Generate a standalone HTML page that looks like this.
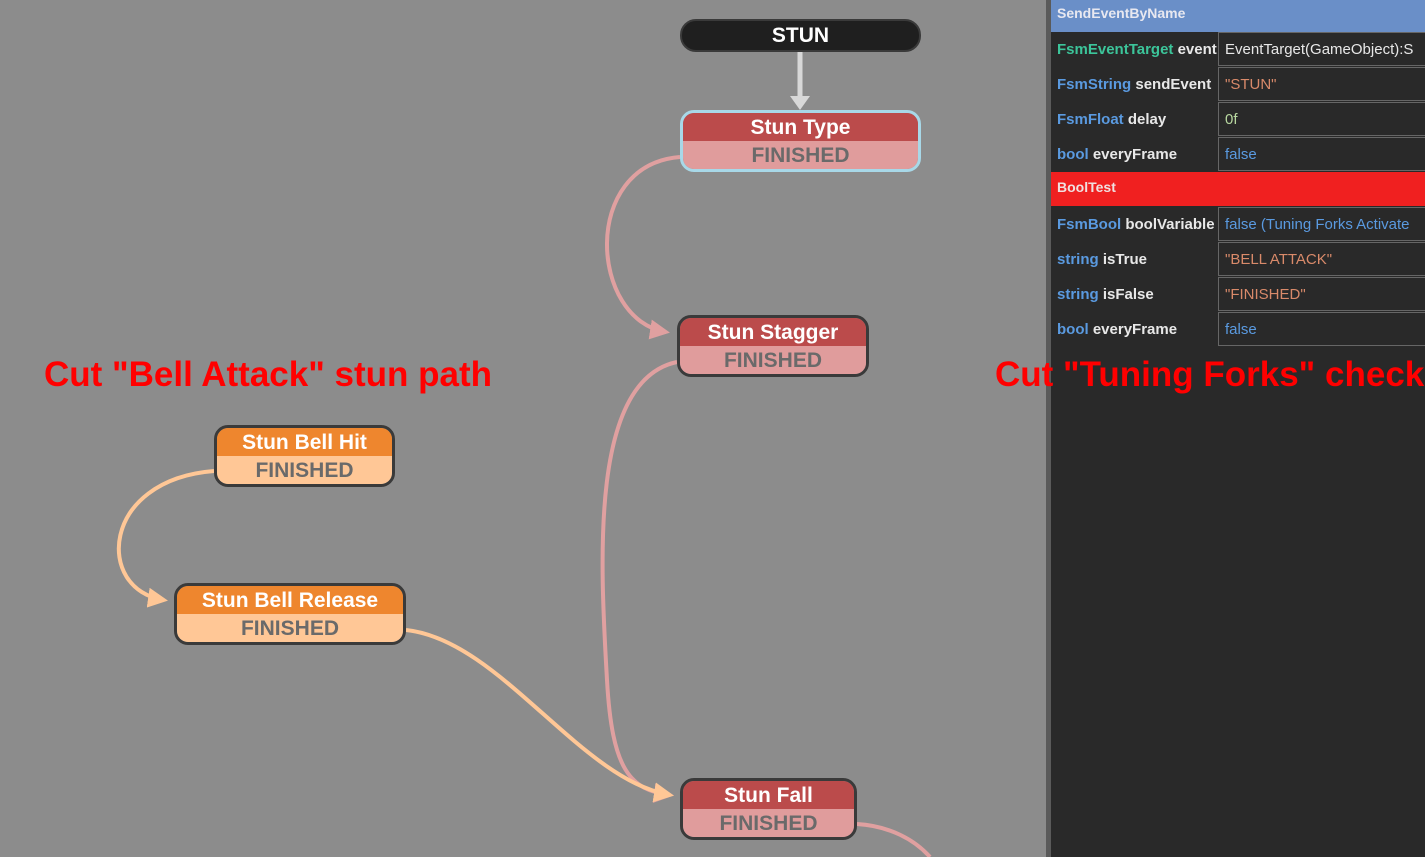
<!DOCTYPE html>
<html><head><meta charset="utf-8"><style>
body{margin:0;width:1425px;height:857px;background:#8c8c8c;overflow:hidden;position:relative;font-family:"Liberation Sans",sans-serif}
.node{position:absolute;border:3px solid #3a3a3a;border-radius:14px;overflow:hidden;box-sizing:border-box;text-align:center;font-weight:bold}
.node .t{height:28px;line-height:29px;color:#fff;font-size:21px}
.node .b{line-height:29px;color:#6a6a6a;font-size:21px;height:100%}
.red .t{background:#bb4b4b}.red .b{background:#e09c9c}
.org .t{background:#ee862e}.org .b{background:#ffc796}
.lbl{position:absolute;color:#ff0000;font-weight:bold;font-size:35px;white-space:nowrap}
#panel{position:absolute;left:1046px;top:0;width:379px;height:857px;background:#292929;border-left:5px solid #5a5a5a;box-sizing:border-box}
.row{position:absolute;left:0;width:374px;height:35px;font-size:15px;line-height:35px}
.k{position:absolute;left:6px;font-weight:bold;color:#e8e8e8;white-space:nowrap;width:160px;overflow:hidden}
.k span{color:#5a9ae0}
.v{position:absolute;left:167px;top:0;width:220px;height:34px;border:1px solid #666;border-right:none;box-sizing:border-box;padding-left:6px;line-height:34px;white-space:nowrap;overflow:hidden;font-size:15px}
</style></head><body>
<svg width="1425" height="857" style="position:absolute;left:0;top:0">
<defs>
<marker id="ap" markerWidth="5" markerHeight="5" refX="4" refY="2.5" orient="auto" markerUnits="strokeWidth"><path d="M0,0L5,2.5L0,5z" fill="#e0a0a0"/></marker>
<marker id="ao" markerWidth="5" markerHeight="5" refX="4" refY="2.5" orient="auto" markerUnits="strokeWidth"><path d="M0,0L5,2.5L0,5z" fill="#ffc796"/></marker>
</defs>
<g fill="none" stroke-width="4">
<path d="M680,157 C580,165 590,320 666,332" stroke="#e0a0a0" marker-end="url(#ap)"/>
<path d="M677,362 C590,380 600,560 607,680 C612,770 630,790 670,795" stroke="#e0a0a0" marker-end="url(#ap)"/>
<path d="M857,824 C890,826 915,840 930,857" stroke="#e0a0a0"/>
<path d="M214,471 C100,480 95,590 164,600" stroke="#ffc796" marker-end="url(#ao)"/>
<path d="M406,630 C500,640 580,780 670,795" stroke="#ffc796" marker-end="url(#ao)"/>
</g>
<line x1="800" y1="52" x2="800" y2="96" stroke="#d8d8d8" stroke-width="5"/>
<path d="M790,96L810,96L800,110z" fill="#d8d8d8"/>
</svg>
<div style="position:absolute;left:680px;top:19px;width:241px;height:33px;background:#1f1f1f;border:2px solid #3a3a3a;box-sizing:border-box;border-radius:16px;color:#fff;font-weight:bold;font-size:21px;text-align:center;line-height:29px">STUN</div>
<div class="node red" style="left:680px;top:110px;width:241px;height:62px;border-color:#a8d8e8"><div class="t">Stun Type</div><div class="b">FINISHED</div></div>
<div class="node red" style="left:677px;top:315px;width:192px;height:62px"><div class="t">Stun Stagger</div><div class="b">FINISHED</div></div>
<div class="node org" style="left:214px;top:425px;width:181px;height:62px"><div class="t">Stun Bell Hit</div><div class="b">FINISHED</div></div>
<div class="node org" style="left:174px;top:583px;width:232px;height:62px"><div class="t">Stun Bell Release</div><div class="b">FINISHED</div></div>
<div class="node red" style="left:680px;top:778px;width:177px;height:62px"><div class="t">Stun Fall</div><div class="b">FINISHED</div></div>
<div id="panel">
<div style="position:absolute;left:0;top:0;width:374px;height:32px;background:#6a8fc8;color:#e8e8f0;font-weight:bold;font-size:14px;line-height:26px;padding-left:6px;box-sizing:border-box">SendEventByName</div>
<div class="row" style="top:32px"><div class="k"><span style="color:#3cc59a">FsmEventTarget</span> event</div><div class="v" style="color:#e8e8e8">EventTarget(GameObject):S</div></div>
<div class="row" style="top:67px"><div class="k"><span>FsmString</span> sendEvent</div><div class="v" style="color:#d98a6a">"STUN"</div></div>
<div class="row" style="top:102px"><div class="k"><span>FsmFloat</span> delay</div><div class="v" style="color:#b8d8a0">0f</div></div>
<div class="row" style="top:137px"><div class="k"><span>bool</span> everyFrame</div><div class="v" style="color:#5a9ae0">false</div></div>
<div style="position:absolute;left:0;top:172px;width:374px;height:34px;background:#f02020;color:#f0e0e0;font-weight:bold;font-size:14px;line-height:31px;padding-left:6px;box-sizing:border-box">BoolTest</div>
<div class="row" style="top:207px"><div class="k"><span>FsmBool</span> boolVariable</div><div class="v" style="color:#5a9ae0">false (Tuning Forks Activate</div></div>
<div class="row" style="top:242px"><div class="k"><span>string</span> isTrue</div><div class="v" style="color:#d98a6a">"BELL ATTACK"</div></div>
<div class="row" style="top:277px"><div class="k"><span>string</span> isFalse</div><div class="v" style="color:#d98a6a">"FINISHED"</div></div>
<div class="row" style="top:312px"><div class="k"><span>bool</span> everyFrame</div><div class="v" style="color:#5a9ae0">false</div></div>
</div>
<div class="lbl" style="left:44px;top:355px">Cut "Bell Attack" stun path</div>
<div class="lbl" style="left:995px;top:355px">Cut "Tuning Forks" check</div>
</body></html>
